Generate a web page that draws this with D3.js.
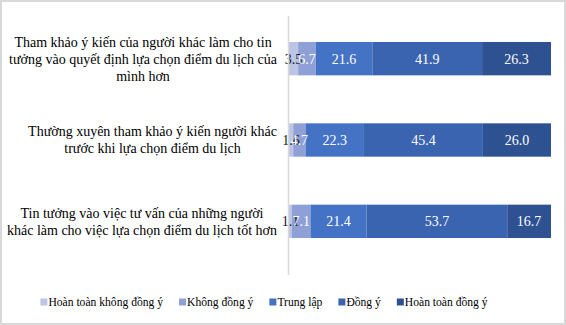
<!DOCTYPE html>
<html>
<head>
<meta charset="utf-8">
<script src="https://cdn.jsdelivr.net/npm/d3@7"></script>
<style>
  html, body { margin: 0; padding: 0; background: #fff; }
  text { font-family: "Liberation Serif", "DejaVu Serif", serif; }
</style>
</head>
<body>
<svg id="chart" width="566" height="325"></svg>
<script>
// categories (top to bottom), each already split into lines as in the picture
const categories = [
  ["Tham khảo ý kiến của người khác làm cho tin", "tưởng vào quyết định lựa chọn điểm du lịch của", "mình hơn"],
  ["Thường xuyên tham khảo ý kiến người khác", "trước khi lựa chọn điểm du lịch"],
  ["Tin tưởng vào việc tư vấn của những người", "khác làm cho việc lựa chọn điểm du lịch tốt hơn"]
];
const seriesNames = ["Hoàn toàn không đồng ý", "Không đồng ý", "Trung lập", "Đồng ý", "Hoàn toàn đồng ý"];
const seriesColors = ["#bcc5e6", "#8fa0d7", "#4472c4", "#3a64b0", "#2e5192"];
const stronglyDisagree = [3.5, 1.6, 1.1];
const disagree = [6.7, 4.7, 7.1];
const neutral = [21.6, 22.3, 21.4];
const agree = [41.9, 45.4, 53.7];
const stronglyAgree = [26.3, 26.0, 16.7];

const width = 566, height = 325;
const margin = {top: 16, left: 289, right: 15, bottom: 50};
const svg = d3.select("#chart");

// outer frame
svg.append("rect")
  .attr("x", 1).attr("y", 1)
  .attr("width", width - 2).attr("height", height - 2)
  .attr("fill", "#fff").attr("stroke", "#d9d9d9").attr("stroke-width", 2);

const rows = categories.map((c, i) => ({
  idx: i,
  vals: [stronglyDisagree[i], disagree[i], neutral[i], agree[i], stronglyAgree[i]]
}));

const x = d3.scaleLinear().domain([0, 100]).range([margin.left, width - margin.right]);
const y = d3.scaleBand().domain(d3.range(categories.length))
  .range([margin.top + 2, height - margin.bottom - 13]).paddingInner(0.59).paddingOuter(0.295);

// stacked segments
const stacked = d3.stack().keys(d3.range(5)).value((d, k) => d.vals[k])(rows);

const g = svg.append("g");
stacked.forEach((layer, k) => {
  g.selectAll(null).data(layer).enter().append("rect")
    .attr("x", d => x(d[0]))
    .attr("width", d => x(d[1]) - x(d[0]))
    .attr("y", (d, i) => y(i))
    .attr("height", y.bandwidth())
    .attr("fill", seriesColors[k]);
});

// data labels
stacked.forEach((layer, k) => {
  g.selectAll(null).data(layer).enter().append("text")
    .attr("x", d => (x(d[0]) + x(d[1])) / 2)
    .attr("y", (d, i) => y(i) + y.bandwidth() / 2)
    .attr("dy", "0.35em")
    .attr("text-anchor", "middle")
    .attr("font-size", 14)
    .attr("fill", k === 0 ? "#1a1a1a" : "#ffffff")
    .text(d => (d[1] - d[0]).toFixed(1));
});

// category axis line
svg.append("line")
  .attr("x1", margin.left - 0.5).attr("x2", margin.left - 0.5)
  .attr("y1", margin.top).attr("y2", height - margin.bottom)
  .attr("stroke", "#d9d9d9").attr("stroke-width", 1.5);

// category labels: lines centred in a block right-aligned to the axis
const lineH = 17;
categories.forEach((lines, i) => {
  const t = svg.append("text")
    .attr("font-size", 14)
    .attr("fill", "#000")
    .attr("text-anchor", "middle");
  const spans = lines.map(l => t.append("tspan").text(l));
  const maxW = d3.max(spans, s => s.node().getComputedTextLength());
  const cx = margin.left - 12 - maxW / 2;
  const cy = y(i) + y.bandwidth() / 2 - (lines.length - 1) * lineH / 2;
  spans.forEach((s, j) => s.attr("x", cx).attr("y", cy + j * lineH).attr("dy", "0.35em"));
});

// legend
const legend = svg.append("g").attr("font-size", 11.6);
let lx = 0;
seriesNames.forEach((name, k) => {
  const it = legend.append("g");
  it.append("rect").attr("x", 0).attr("y", -3.5).attr("width", 7).attr("height", 7).attr("fill", seriesColors[k]);
  const tx = it.append("text").attr("x", 8).attr("dy", "0.35em").text(name);
  const w = 8 + tx.node().getComputedTextLength();
  it.attr("transform", `translate(${lx},0)`);
  lx += w + 16;
});
const totalW = lx - 16;
legend.attr("transform", `translate(${264 - totalW / 2},302)`);
</script>
</body>
</html>
